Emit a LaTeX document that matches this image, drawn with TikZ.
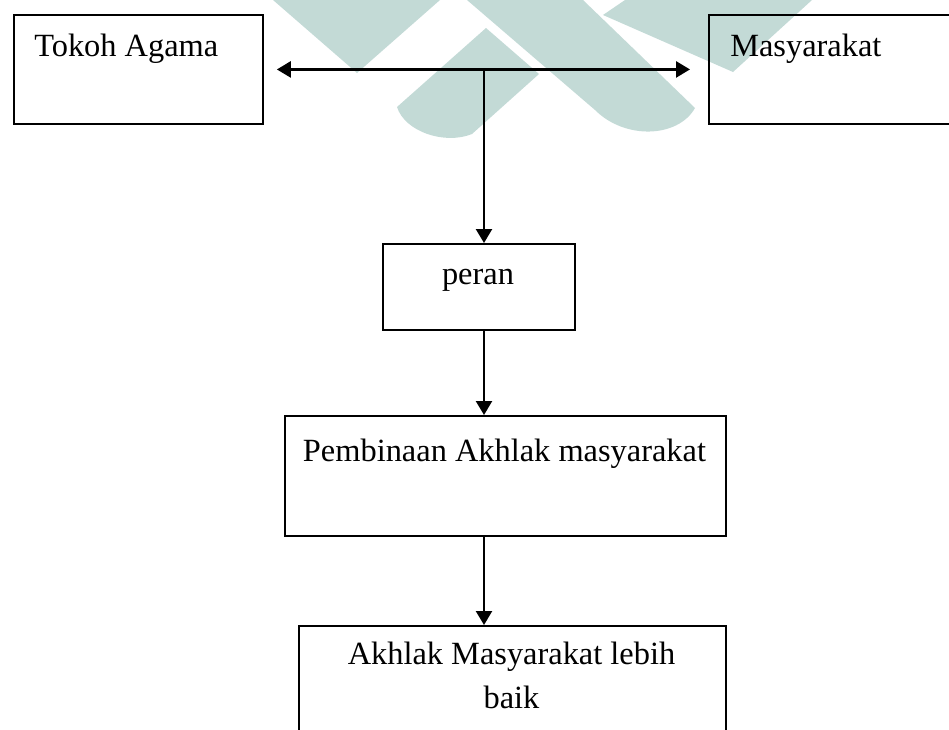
\documentclass[tikz,border=0pt]{standalone}
\usepackage{fontspec}
\setmainfont{Liberation Serif}
\usetikzlibrary{arrows.meta}
\definecolor{wm}{RGB}{195,218,214}
\begin{document}
\begin{tikzpicture}[x=0.75pt,y=-0.75pt,
  box/.style={draw=black, line width=1.4pt, rectangle, inner sep=0pt, anchor=north west},
  txt/.style={font=\fontsize{24.3}{33}\selectfont, inner sep=0pt},
  conn/.style={line width=1.7pt, -{Triangle[length=10.5pt,width=12pt]}},
  both/.style={line width=2pt, {Triangle[length=10.5pt,width=12pt]}-{Triangle[length=10.5pt,width=12pt]}},
  wmark/.style={fill=wm, draw=none}
]
\useasboundingbox (0,0) rectangle (949,729);
\clip (0,0) rectangle (949,729);
% watermark
\path[wmark] (273,0) -- (440,0) -- (357,73) -- cycle;
\path[wmark] (486,28) -- (539,74) -- (472,134) .. controls (445,145) and (405,132) .. (397,107) -- cycle;
\path[wmark] (467,0) -- (583,0) -- (695,108) .. controls (678,138) and (625,140) .. (595,110) -- cycle;
\path[wmark] (625,0) -- (812,0) -- (733,72) -- (603,15) -- cycle;
% boxes
\node[box, minimum width=186.75pt, minimum height=81.75pt] (tokoh) at (13,14) {};
\node[box, minimum width=189pt, minimum height=81.75pt] (masy) at (708,14) {};
\node[box, minimum width=144pt, minimum height=64.5pt] (peran) at (382,243) {};
\node[box, minimum width=330.75pt, minimum height=90pt] (pemb) at (284,415) {};
\node[box, minimum width=320.25pt, minimum height=90pt] (akh) at (298,625) {};
% texts
\node[txt, anchor=base west] (tokohT) at (34,56) {Tokoh Agama};
\node[txt, anchor=base west] (masyT) at (730,56) {Masyarakat};
\node[txt, anchor=base] (peranT) at (478,284) {peran};
\node[txt, anchor=base] (pembT) at (504.5,461) {Pembinaan Akhlak masyarakat};
\node[txt, anchor=north, align=center] (akhT) at (511.5,642) {Akhlak Masyarakat lebih\\baik};
% connectors
\coordinate (j) at (484,68.5);
\draw[both, shorten <=9.75pt, shorten >=13.5pt] (tokoh.east) -- (masy.west);
\draw[conn] (j) -- (peran.north -| j);
\draw[conn] (peran.south -| j) -- (pemb.north -| j);
\draw[conn] (pemb.south -| j) -- (akh.north -| j);
\end{tikzpicture}
\end{document}
